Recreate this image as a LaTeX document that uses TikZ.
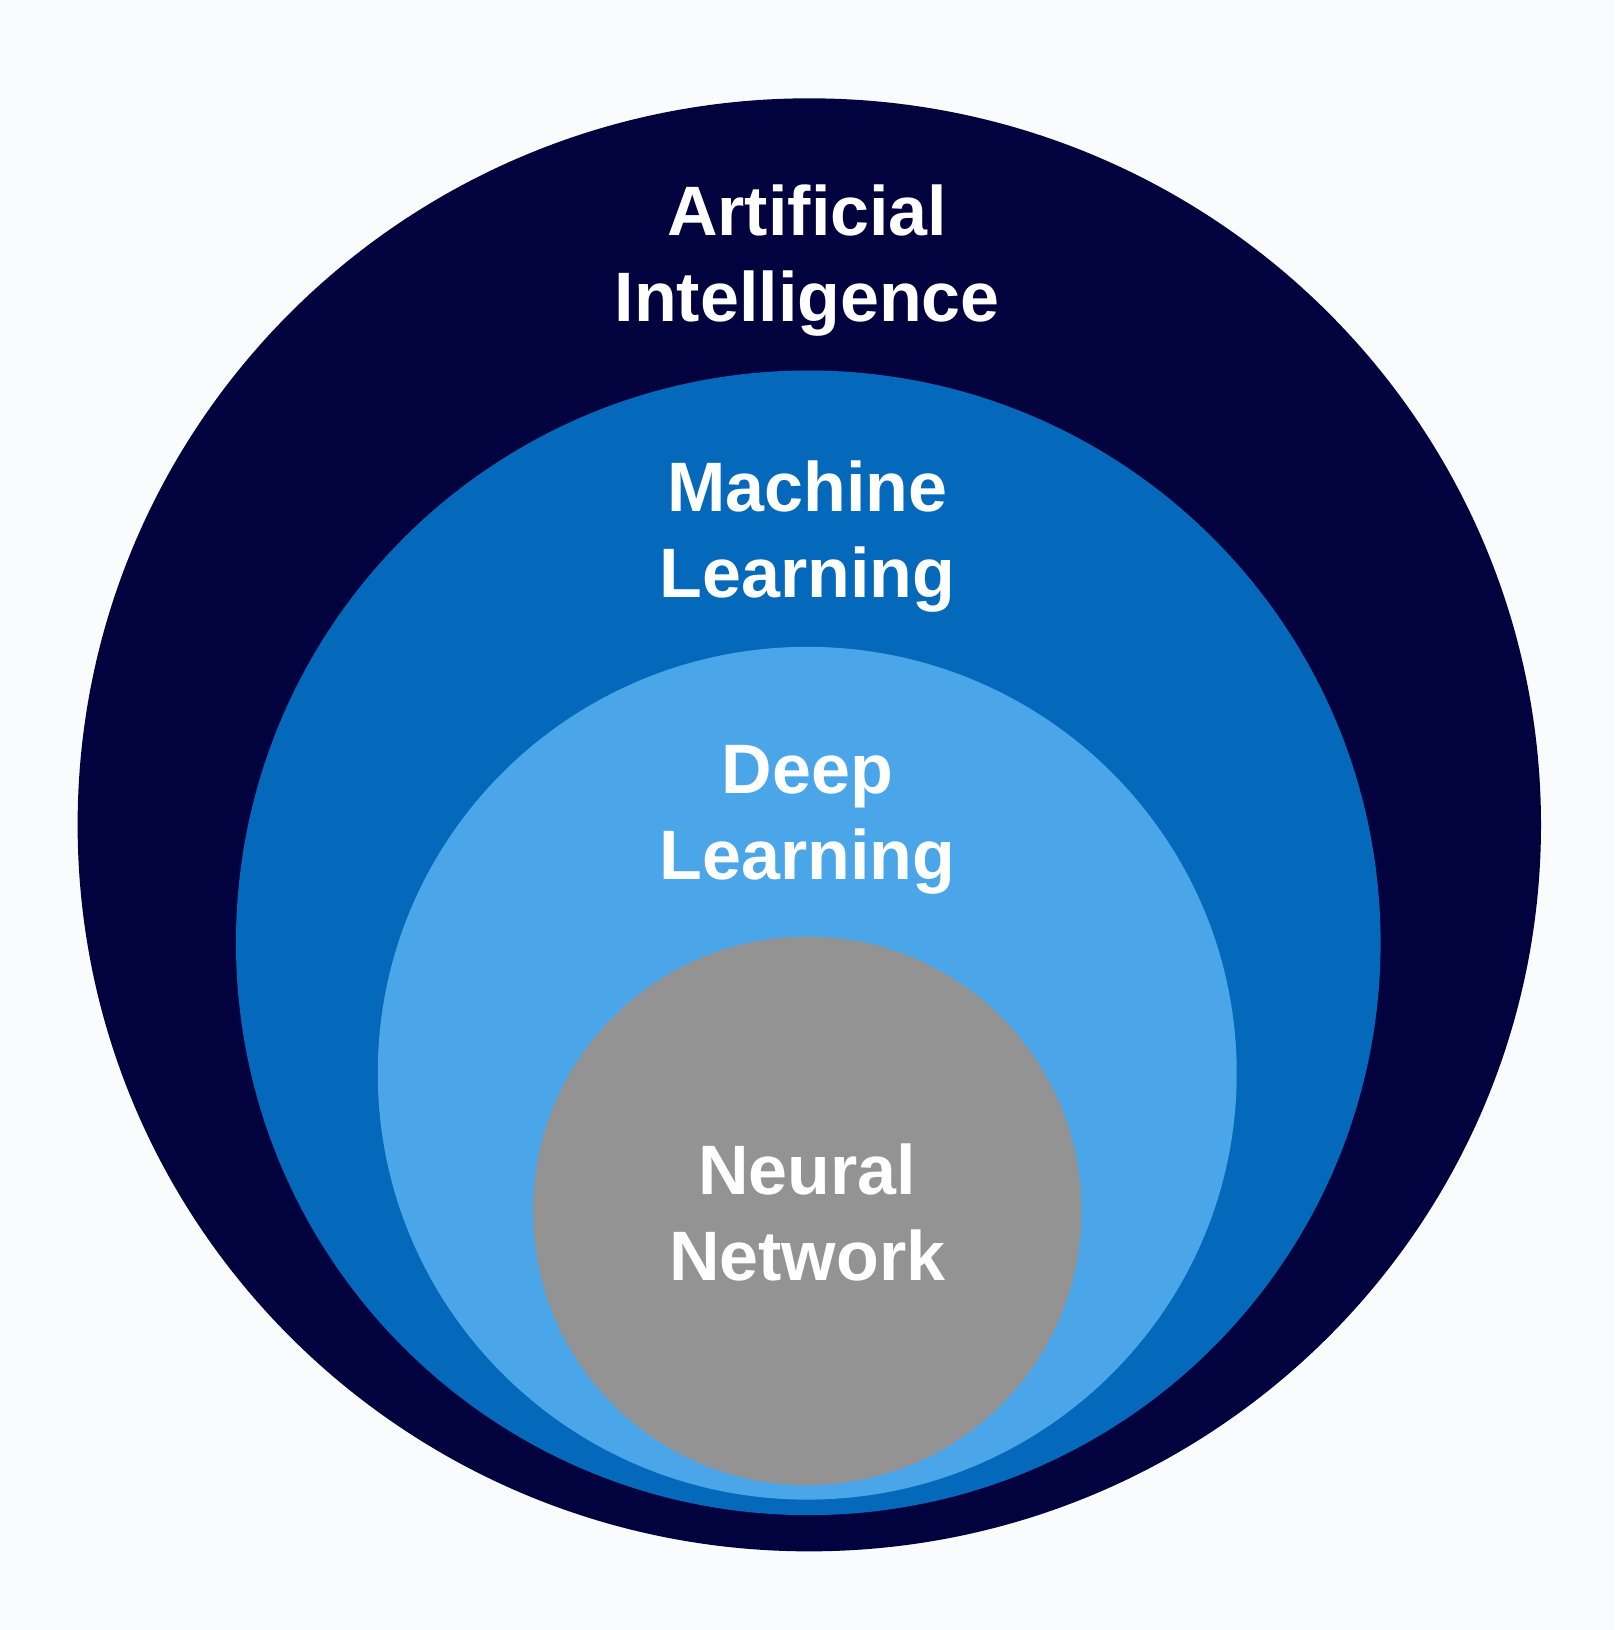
\documentclass[tikz,border=0pt]{standalone}
\usepackage{fontspec}
\setmainfont{Liberation Sans}
\definecolor{bgc}{HTML}{FAFBFD}
\definecolor{aic}{HTML}{02023F}
\definecolor{mlc}{HTML}{0469BA}
\definecolor{dlc}{HTML}{4BA5E9}
\definecolor{nnc}{HTML}{939393}
\begin{document}
\begin{tikzpicture}[x=1.035pt,y=-1.035pt,
  lbl/.style={text=white,align=center,font=\fontsize{70}{86}\selectfont\bfseries,inner sep=0pt}]
\fill[bgc] (0,0) rectangle (1560,1575);
\useasboundingbox (0,0) rectangle (1560,1575);
\fill[aic] (782,797) ellipse [x radius=707, y radius=702];
\fill[mlc] (781,911) ellipse [x radius=553, y radius=553];
\fill[dlc] (780,1037) ellipse [x radius=415, y radius=412];
\fill[nnc] (780,1170) circle [radius=265];
\node[lbl] (ai) at (780,252) {Artificial\\Intelligence};
\node[lbl] (ml) at (780,518) {Machine\\Learning};
\node[lbl] (dl) at (780,792) {Deep\\Learning};
\node[lbl] (nn) at (780,1172) {Neural\\Network};
\end{tikzpicture}
\end{document}
